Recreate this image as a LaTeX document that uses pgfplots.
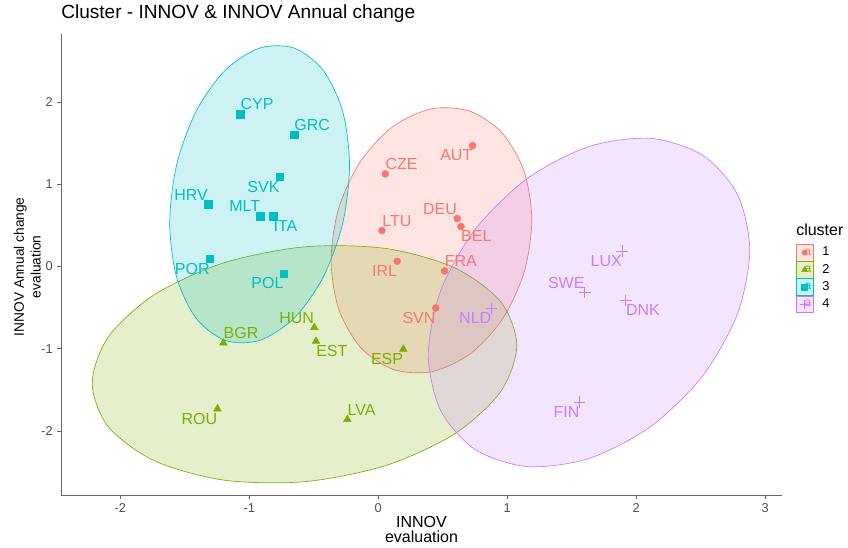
\documentclass[border=0pt]{standalone}
\usepackage{fontspec}
\setmainfont{Liberation Sans}
\usepackage{pgfplots}
\usepackage{pgfplotstable}
\pgfplotsset{compat=1.18}
\definecolor{c1}{HTML}{F8766D}
\definecolor{c2}{HTML}{7CAE00}
\definecolor{c3}{HTML}{00BFC4}
\definecolor{c4}{HTML}{C77CFF}
\definecolor{axgray}{HTML}{666666}
\definecolor{tickgray}{HTML}{4D4D4D}
\newcommand\lbl{\fontsize{12}{14}\selectfont}
\newcommand\tk{\fontsize{9.6}{11}\selectfont}

% ellipse outlines read from the picture
\pgfplotstableread{
x y
1.190 0.563
1.131 1.157
0.962 1.623
0.710 1.891
0.412 1.920
0.114 1.705
-0.138 1.280
-0.307 0.708
-0.366 0.077
-0.307 -0.517
-0.138 -0.983
0.114 -1.251
0.412 -1.280
0.710 -1.065
0.962 -0.640
1.131 -0.068
}\elA
\pgfplotstableread{
x y
1.074 -0.958
0.949 -0.429
0.592 -0.015
0.058 0.220
-0.572 0.240
-1.202 0.043
-1.736 -0.342
-2.093 -0.856
-2.218 -1.420
-2.093 -1.949
-1.736 -2.363
-1.202 -2.598
-0.572 -2.618
0.058 -2.421
0.592 -2.036
0.949 -1.522
}\elB
\pgfplotstableread{
x y
-0.223 1.233
-0.276 1.887
-0.427 2.388
-0.653 2.659
-0.920 2.659
-1.187 2.389
-1.413 1.888
-1.564 1.235
-1.617 0.527
-1.564 -0.127
-1.413 -0.628
-1.187 -0.899
-0.920 -0.899
-0.653 -0.629
-0.427 -0.128
-0.276 0.525
}\elC
\pgfplotstableread{
x y
2.880 0.198
2.785 0.876
2.515 1.354
2.111 1.560
1.634 1.461
1.157 1.074
0.753 0.456
0.483 -0.297
0.388 -1.072
0.483 -1.750
0.753 -2.228
1.157 -2.434
1.634 -2.335
2.111 -1.948
2.515 -1.330
2.785 -0.574
}\elD

\pgfplotsset{
  lblstyle/.style={
    point meta=explicit symbolic,
    nodes near coords,
    visualization depends on={value \thisrow{anc}\as\myanchor},
    every node near coord/.append style={anchor=\myanchor, text=#1, font=\lbl, inner xsep=0pt, inner ysep=3pt},
  },
  ellstyle/.style={draw=#1, fill=#1, fill opacity=0.2, line width=0.5pt, smooth cycle, tension=0.5, forget plot},
  keybox/.style n args={2}{
    legend image code/.code={
      \draw[#1, fill=#1, fill opacity=0.2, line width=0.5pt] (0pt,-6.2pt) rectangle (12.5pt,6.2pt);
      \node[text=#1, inner sep=0pt, font=\fontsize{9}{9}\selectfont] at (6.25pt,-0.3pt) {a};
      \draw[#1, #2] plot coordinates {(6.25pt,0pt)};
    }
  },
}

\begin{document}
\begin{tikzpicture}
\useasboundingbox (-45.75pt,-39pt) rectangle (590.25pt,371.25pt);
\begin{axis}[
  scale only axis,
  width=540.75pt, height=345.75pt,
  xmin=-2.46, xmax=3.13, ymin=-2.78, ymax=2.83,
  clip=false,
  axis lines=left,
  axis line style={-, axgray, line width=0.6pt},
  xtick={-2,-1,0,1,2,3}, ytick={-2,-1,0,1,2},
  tick align=outside, major tick length=2.75pt,
  tick style={axgray, line width=0.5pt},
  tick label style={font=\tk, text=tickgray},
  /pgf/number format/assume math mode=true,
  title={Cluster - INNOV \& INNOV Annual change},
  title style={at={(axis description cs:0,1)}, anchor=base west, yshift=5.5pt, inner sep=0pt, font=\fontsize{14.3}{17}\selectfont},
  xlabel={INNOV\\evaluation},
  xlabel style={at={(axis description cs:0.5,-0.0455)}, anchor=north, align=center, inner sep=0pt, font=\fontsize{12}{11.5}\selectfont},
  ylabel={INNOV Annual change\\evaluation},
  ylabel style={at={(axis description cs:-0.0277,0.495)}, anchor=south, align=center, inner sep=0pt, font=\fontsize{10.3}{12.5}\selectfont},
  legend style={at={(axis description cs:1.0194,0.5445)}, anchor=north west, draw=none, fill=none,
    inner sep=0pt, outer sep=0pt, row sep=0pt, column sep=6.75pt, font=\tk, nodes={inner sep=0pt}},
  legend cell align=left,
]
\addplot[only marks, mark=*, mark size=2.6pt, color=c1, forget plot, lblstyle=c1]
  table[x=x, y=y, meta=label, col sep=comma]{
x,y,anc,label
0.731,1.472,north east,AUT
0.054,1.127,south west,CZE
0.612,0.584,south east,DEU
0.641,0.487,north west,BEL
0.029,0.438,south west,LTU
0.147,0.064,north east,IRL
0.514,-0.054,south west,FRA
0.445,-0.504,north east,SVN
};
\addplot[only marks, mark=triangle*, mark size=3.3pt, color=c2, forget plot, lblstyle=c2]
  table[x=x, y=y, meta=label, col sep=comma]{
x,y,anc,label
-0.496,-0.742,south east,HUN
-1.201,-0.929,south west,BGR
-0.483,-0.909,north west,EST
0.194,-1.006,north east,ESP
-1.247,-1.732,north east,ROU
-0.240,-1.861,south west,LVA
};
\addplot[only marks, mark=square*, mark size=2.8pt, color=c3, forget plot, lblstyle=c3]
  table[x=x, y=y, meta=label, col sep=comma]{
x,y,anc,label
-1.069,1.856,south west,CYP
-0.653,1.606,south west,GRC
-0.764,1.095,north east,SVK
-1.319,0.758,south east,HRV
-0.914,0.614,south east,MLT
-0.814,0.614,north west,ITA
-1.306,0.097,north east,POR
-0.733,-0.085,north east,POL
};
\addplot[only marks, mark=+, mark size=4.3pt, line width=0.5pt, color=c4, forget plot, lblstyle=c4]
  table[x=x, y=y, meta=label, col sep=comma]{
x,y,anc,label
1.890,0.190,north east,LUX
1.601,-0.316,south east,SWE
1.919,-0.410,north west,DNK
0.878,-0.511,north east,NLD
1.562,-1.647,north east,FIN
};

\addplot[ellstyle=c1] table {\elA};
\addplot[ellstyle=c2] table {\elB};
\addplot[ellstyle=c3] table {\elC};
\addplot[ellstyle=c4] table {\elD};

\addlegendimage{keybox={c1}{mark=*, mark size=2pt}}
\addlegendentry{1}
\addlegendimage{keybox={c2}{mark=triangle*, mark size=2.6pt}}
\addlegendentry{2}
\addlegendimage{keybox={c3}{mark=square*, mark size=2.2pt}}
\addlegendentry{3}
\addlegendimage{keybox={c4}{mark=+, mark size=3.5pt, line width=0.5pt}}
\addlegendentry{4}

\node[anchor=base west, inner sep=0pt, font=\lbl] at (axis description cs:1.0194,0.564) {cluster};
\end{axis}
\end{tikzpicture}
\end{document}
